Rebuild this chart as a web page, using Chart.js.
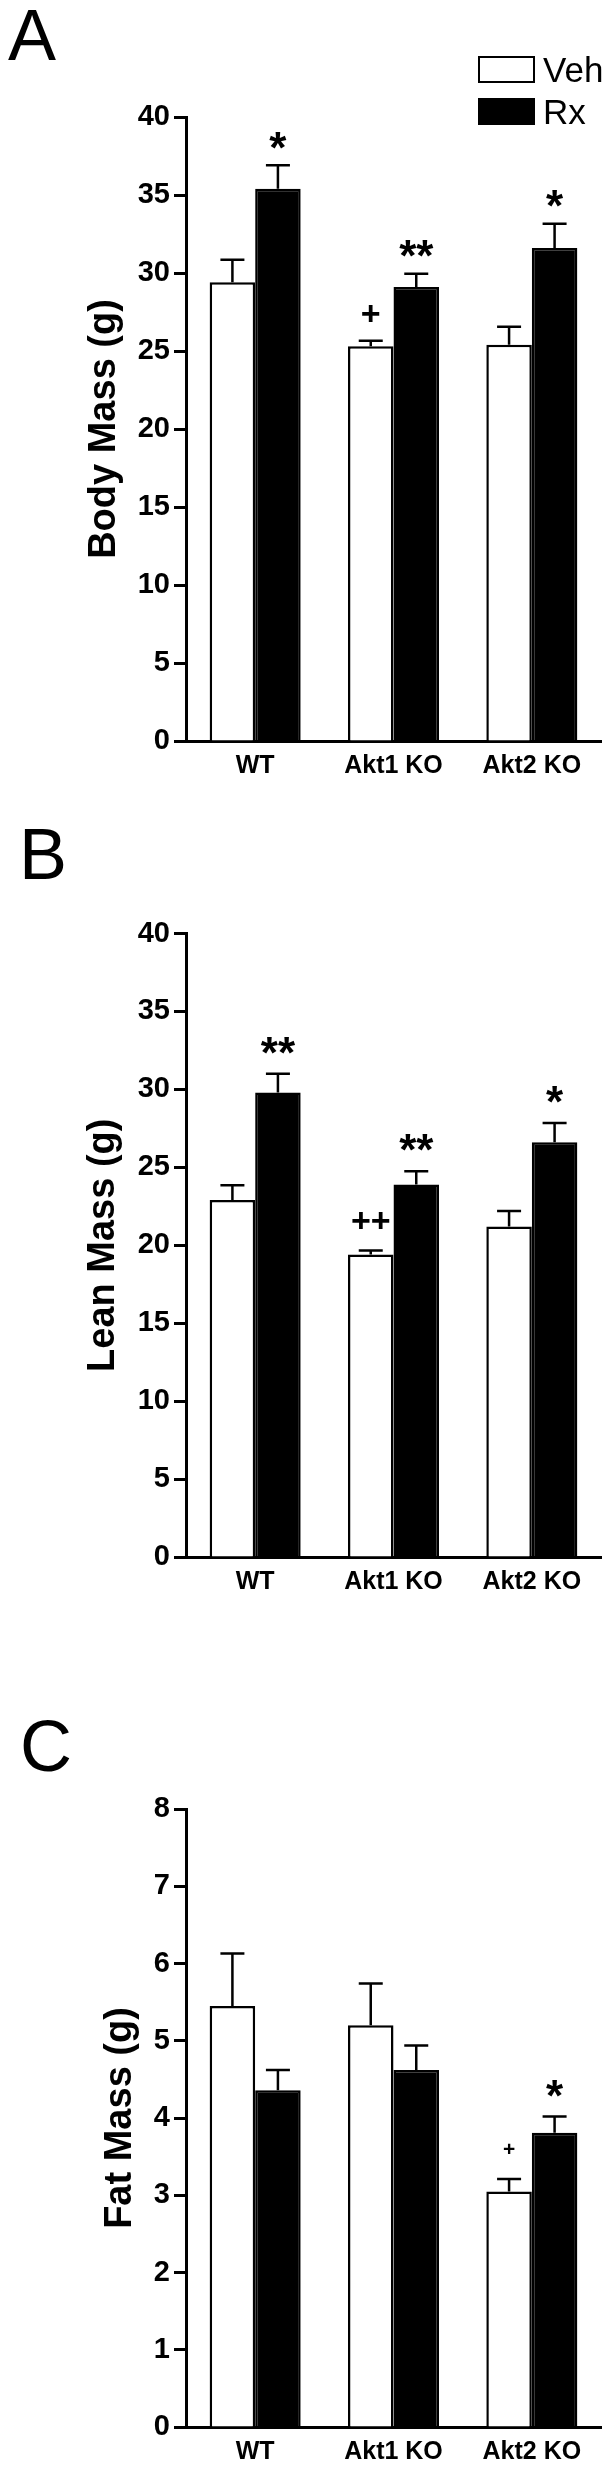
<!DOCTYPE html>
<html>
<head>
<meta charset="utf-8">
<script src="https://cdn.jsdelivr.net/npm/chart.js@4/dist/chart.umd.min.js"></script>
<style>
  html, body { margin: 0; padding: 0; background: #fff; }
  body { width: 614px; height: 2469px; position: relative; overflow: hidden; }
  canvas { position: absolute; left: 0; }
</style>
</head>
<body>
<canvas id="panelA" width="614" height="790" style="top:0"></canvas>
<canvas id="panelB" width="614" height="810" style="top:790px"></canvas>
<canvas id="panelC" width="614" height="869" style="top:1600px"></canvas>
<script>
// categories and series
var groups = ['WT', 'Akt1 KO', 'Akt2 KO'];
var seriesNames = ['Veh', 'Rx'];

// A - body mass (g), mean and SEM
var bodyVeh = [29.4, 25.3, 25.4];
var bodyVehErr = [1.45, 0.35, 1.15];
var bodyRx = [35.4, 29.1, 31.6];
var bodyRxErr = [1.5, 0.85, 1.55];
var bodyVehMarks = ['', '+', ''];
var bodyRxMarks = ['*', '**', '*'];

// B - lean mass (g)
var leanVeh = [22.9, 19.4, 21.2];
var leanVehErr = [0.95, 0.27, 1.0];
var leanRx = [29.8, 23.9, 26.6];
var leanRxErr = [1.2, 0.85, 1.25];
var leanVehMarks = ['', '++', ''];
var leanRxMarks = ['**', '**', '*'];

// C - fat mass (g)
var fatVeh = [5.45, 5.2, 3.05];
var fatVehErr = [0.68, 0.54, 0.16];
var fatRx = [4.36, 4.62, 3.81];
var fatRxErr = [0.26, 0.32, 0.21];
var fatVehMarks = ['', '', '+'];
var fatRxMarks = ['', '', '*'];

// y tick labels
var massTicks = [0, 5, 10, 15, 20, 25, 30, 35, 40];
var fatTicks = [0, 1, 2, 3, 4, 5, 6, 7, 8];

var FONT = '"Liberation Sans", Arial, Helvetica, sans-serif';
Chart.defaults.font.family = FONT;
Chart.defaults.color = '#000';

// error bars (upper only) + significance marks
var errorBars = {
  id: 'errorBars',
  afterDatasetsDraw: function (chart, args, opts) {
    var ctx = chart.ctx;
    var yScale = chart.scales.y;
    ctx.save();
    chart.data.datasets.forEach(function (ds, i) {
      var meta = chart.getDatasetMeta(i);
      meta.data.forEach(function (bar, j) {
        var top = yScale.getPixelForValue(ds.data[j] + ds.errors[j]);
        ctx.strokeStyle = '#000';
        ctx.lineWidth = 2.5;
        ctx.beginPath();
        ctx.moveTo(bar.x, bar.y);
        ctx.lineTo(bar.x, top);
        ctx.moveTo(bar.x - 12, top);
        ctx.lineTo(bar.x + 12, top);
        ctx.stroke();

        var mark = ds.marks[j];
        if (mark) {
          var isStar = mark.charAt(0) === '*';
          var fs = isStar ? opts.starSize : opts.plusSize;
          ctx.fillStyle = '#000';
          ctx.font = 'bold ' + fs + 'px ' + FONT;
          ctx.textAlign = 'center';
          ctx.textBaseline = 'alphabetic';
          var center = top - opts.gap;
          ctx.fillText(mark, bar.x, center + (isStar ? 0.55 : 0.33) * fs);
        }
      });
    });
    ctx.restore();
  }
};

// panel letter and legend boxes
var panelDecor = {
  id: 'panelDecor',
  afterDraw: function (chart, args, opts) {
    var ctx = chart.ctx;
    ctx.save();
    ctx.fillStyle = '#000';
    ctx.font = '72px ' + FONT;
    ctx.textAlign = 'left';
    ctx.textBaseline = 'alphabetic';
    ctx.fillText(opts.letter, opts.letterX, opts.letterY);
    if (opts.legend) {
      chart.data.datasets.forEach(function (ds, i) {
        var y = 56 + i * 42;
        ctx.fillStyle = ds.backgroundColor;
        ctx.fillRect(478, y, 57, 27);
        ctx.lineWidth = 2;
        ctx.strokeStyle = '#000';
        ctx.strokeRect(479, y + 1, 55, 25);
        ctx.fillStyle = '#000';
        ctx.font = '35px ' + FONT;
        ctx.fillText(ds.label, 543, y + 26);
      });
    }
    ctx.restore();
  }
};

function makePanel(id, p) {
  var ctx = document.getElementById(id).getContext('2d');
  return new Chart(ctx, {
    type: 'bar',
    data: {
      labels: groups,
      datasets: [{
        label: seriesNames[0],
        data: p.veh,
        errors: p.vehErr,
        marks: p.vehMarks,
        backgroundColor: '#ffffff',
        borderColor: '#000000',
        borderWidth: 2.5,
        categoryPercentage: 0.658,
        barPercentage: 1.0
      }, {
        label: seriesNames[1],
        data: p.rx,
        errors: p.rxErr,
        marks: p.rxMarks,
        backgroundColor: '#000000',
        borderColor: '#000000',
        borderWidth: 2.5,
        categoryPercentage: 0.658,
        barPercentage: 1.0
      }]
    },
    options: {
      responsive: false,
      animation: false,
      events: [],
      layout: {
        padding: { left: 0, right: 13, top: p.top, bottom: 0 }
      },
      scales: {
        x: {
          grid: { display: false, drawTicks: false },
          border: { display: true, color: '#000', width: 3 },
          ticks: {
            font: { size: 25, weight: 'bold' },
            padding: 10,
            maxRotation: 0,
            autoSkip: false
          },
          afterFit: function (scale) { scale.height = p.xHeight; }
        },
        y: {
          min: 0,
          max: p.ticks[p.ticks.length - 1],
          afterBuildTicks: function (scale) {
            scale.ticks = p.ticks.map(function (v) { return { value: v }; });
          },
          grid: {
            drawOnChartArea: false,
            drawTicks: true,
            tickLength: 12,
            tickWidth: 3,
            tickColor: '#000'
          },
          border: { display: true, color: '#000', width: 3 },
          ticks: {
            font: { size: 29, weight: 'bold' },
            padding: 4,
            autoSkip: false
          },
          title: {
            display: true,
            text: p.title,
            font: { size: 38, weight: 'bold' },
            padding: { top: p.titlePad, bottom: 0 }
          },
          afterFit: function (scale) { scale.width = 186; }
        }
      },
      plugins: {
        legend: { display: false },
        tooltip: { enabled: false },
        errorBars: { starSize: p.starSize, plusSize: p.plusSize, gap: p.gap },
        panelDecor: { letter: p.letter, letterX: p.letterX, letterY: p.letterY, legend: p.legend }
      }
    },
    plugins: [errorBars, panelDecor]
  });
}

makePanel('panelA', {
  veh: bodyVeh, vehErr: bodyVehErr, vehMarks: bodyVehMarks,
  rx: bodyRx, rxErr: bodyRxErr, rxMarks: bodyRxMarks,
  ticks: massTicks, title: 'Body Mass (g)',
  top: 117, xHeight: 49, titlePad: 82,
  starSize: 44, plusSize: 34, gap: 27,
  letter: 'A', letterX: 8, letterY: 60, legend: true
});

makePanel('panelB', {
  veh: leanVeh, vehErr: leanVehErr, vehMarks: leanVehMarks,
  rx: leanRx, rxErr: leanRxErr, rxMarks: leanRxMarks,
  ticks: massTicks, title: 'Lean Mass (g)',
  top: 143.5, xHeight: 43, titlePad: 81,
  starSize: 44, plusSize: 34, gap: 30,
  letter: 'B', letterX: 19, letterY: 89, legend: false
});

makePanel('panelC', {
  veh: fatVeh, vehErr: fatVehErr, vehMarks: fatVehMarks,
  rx: fatRx, rxErr: fatRxErr, rxMarks: fatRxMarks,
  ticks: fatTicks, title: 'Fat Mass (g)',
  top: 209, xHeight: 42, titlePad: 98,
  starSize: 44, plusSize: 21, gap: 30,
  letter: 'C', letterX: 20, letterY: 171, legend: false
});
</script>
</body>
</html>
